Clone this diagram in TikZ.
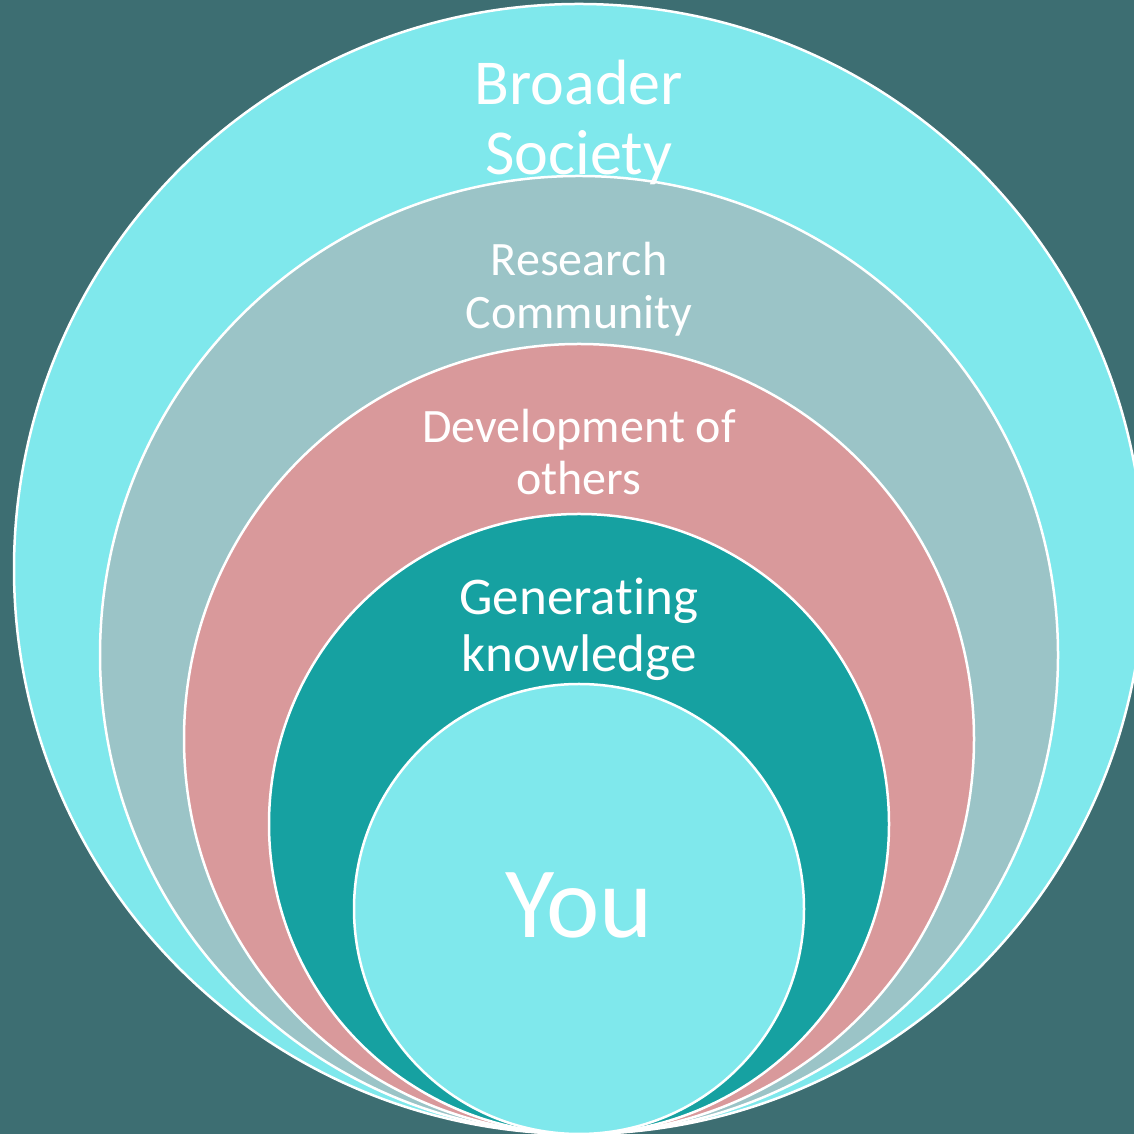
\documentclass[tikz,border=0pt]{standalone}
\usepackage{fontspec}
\setmainfont{Carlito}[Ligatures=NoCommon]
\usetikzlibrary{positioning}
\definecolor{bgteal}{HTML}{3D6E72}
\definecolor{lightcyan}{HTML}{7FE8EC}
\definecolor{greyteal}{HTML}{9BC4C7}
\definecolor{rosepink}{HTML}{D9999B}
\definecolor{deepteal}{HTML}{16A1A1}

\begin{document}
\begin{tikzpicture}[
    x=1pt, y=1pt,
    ring/.style={draw=white, line width=2.5pt},
    lbl/.style={text=white, align=center, anchor=base, inner sep=0pt}
]
% Background
\fill[bgteal] (0,0) rectangle (1134,1134);
\useasboundingbox (0,0) rectangle (1134,1134);

% Rings, outermost first (all touch at the bottom)
\draw[ring, fill=lightcyan] (579,565) circle[radius=565pt];
\draw[ring, fill=greyteal]  (579,479) circle[radius=479pt];
\draw[ring, fill=rosepink]  (579,395) circle[radius=395pt];
\draw[ring, fill=deepteal]  (579,310) circle[radius=310pt];
\draw[ring, fill=lightcyan] (579,225) circle[radius=225pt];

% Labels (anchored on the last line)
\node[lbl, font=\fontsize{64}{70}\selectfont] (society) at (579,959) {Broader\\Society};
\node[lbl, font=\fontsize{48}{53}\selectfont] (community) at (579,805) {Research\\Community};
\node[lbl, font=\fontsize{48}{52}\selectfont] (others) at (579,639) {Development of\\others};
\node[lbl, font=\fontsize{53}{57}\selectfont] (knowledge) at (579,462) {Generating\\knowledge};
\node[lbl, font=\fontsize{101}{110}\selectfont] (you) at (579,196) {You};
\end{tikzpicture}
\end{document}
